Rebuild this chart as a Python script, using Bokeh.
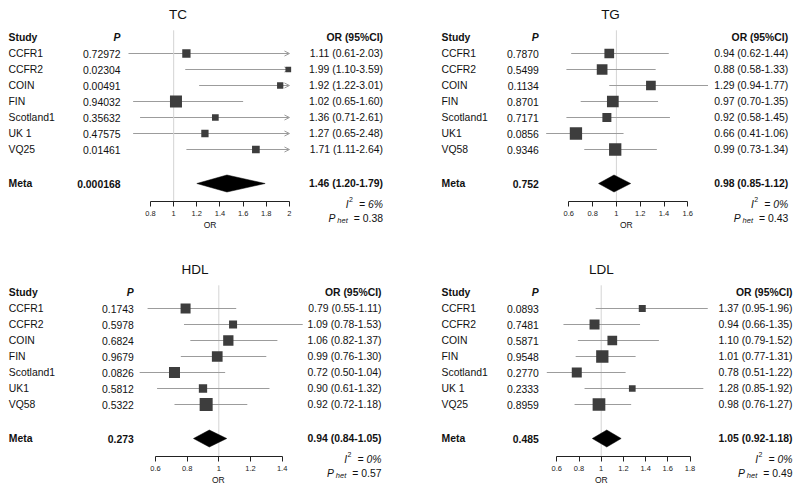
from bokeh.plotting import figure
from bokeh.models import (Range1d, ColumnDataSource, FixedTicker, NumeralTickFormatter,
                          Arrow, OpenHead)
from bokeh.layouts import row, column
from bokeh.embed import file_html
from bokeh.resources import INLINE
from bokeh.core.properties import value

# ---------------- data ----------------
tc_study = ["CCFR1", "CCFR2", "COIN", "FIN", "Scotland1", "UK 1", "VQ25"]
tc_p = ["0.72972", "0.02304", "0.00491", "0.94032", "0.35632", "0.47575", "0.01461"]
tc_or = [1.11, 1.99, 1.92, 1.02, 1.36, 1.27, 1.71]
tc_lo = [0.61, 1.10, 1.22, 0.65, 0.71, 0.65, 1.11]
tc_hi = [2.03, 3.59, 3.01, 1.60, 2.61, 2.48, 2.64]
tc_weight = [8.3, 5.7, 6.3, 12.0, 6.7, 7.3, 7.7]
tc_meta = dict(p="0.000168", est=1.46, lo=1.20, hi=1.79, i2="6%", phet="0.38")
tc_ticks = [0.8, 1.0, 1.2, 1.4, 1.6, 1.8, 2.0]

tg_study = ["CCFR1", "CCFR2", "COIN", "FIN", "Scotland1", "UK1", "VQ58"]
tg_p = ["0.7870", "0.5499", "0.1134", "0.8701", "0.7171", "0.0856", "0.9346"]
tg_or = [0.94, 0.88, 1.29, 0.97, 0.92, 0.66, 0.99]
tg_lo = [0.62, 0.58, 0.94, 0.70, 0.58, 0.41, 0.73]
tg_hi = [1.44, 1.33, 1.77, 1.35, 1.45, 1.06, 1.34]
tg_weight = [9.7, 10.7, 9.7, 11.7, 9.0, 12.3, 12.3]
tg_meta = dict(p="0.752", est=0.98, lo=0.85, hi=1.12, i2="0%", phet="0.43")
tg_ticks = [0.6, 0.8, 1.0, 1.2, 1.4, 1.6]

hdl_study = ["CCFR1", "CCFR2", "COIN", "FIN", "Scotland1", "UK1", "VQ58"]
hdl_p = ["0.1743", "0.5978", "0.6824", "0.9679", "0.0826", "0.5812", "0.5322"]
hdl_or = [0.79, 1.09, 1.06, 0.99, 0.72, 0.90, 0.92]
hdl_lo = [0.55, 0.78, 0.82, 0.76, 0.50, 0.61, 0.72]
hdl_hi = [1.11, 1.53, 1.37, 1.30, 1.04, 1.32, 1.18]
hdl_weight = [10.0, 8.0, 10.3, 10.7, 11.0, 8.3, 13.0]
hdl_meta = dict(p="0.273", est=0.94, lo=0.84, hi=1.05, i2="0%", phet="0.57")
hdl_ticks = [0.6, 0.8, 1.0, 1.2, 1.4]

ldl_study = ["CCFR1", "CCFR2", "COIN", "FIN", "Scotland1", "UK 1", "VQ25"]
ldl_p = ["0.0893", "0.7481", "0.5871", "0.9548", "0.2770", "0.2333", "0.8959"]
ldl_or = [1.37, 0.94, 1.10, 1.01, 0.78, 1.28, 0.98]
ldl_lo = [0.95, 0.66, 0.79, 0.77, 0.51, 0.85, 0.76]
ldl_hi = [1.96, 1.35, 1.52, 1.31, 1.22, 1.92, 1.27]
ldl_weight = [7.0, 10.0, 9.7, 12.3, 10.0, 6.7, 12.7]
ldl_meta = dict(p="0.485", est=1.05, lo=0.92, hi=1.18, i2="0%", phet="0.49")
ldl_ticks = [0.6, 0.8, 1.0, 1.2, 1.4, 1.6, 1.8]

NULL_OR = 1.0

# ---------------- style / layout ----------------
FONT = "Liberation Sans"
FS_PX = 10.4
FS = f"{FS_PX}px"
SUB_PX = 7.5
TXT = "#111111"
CI_COL = "#9c9c9c"
BOX_COL = "#3d3d3d"
REF_COL = "#d4d4d4"
ROW_PX = 16.0
HEADER_PX = 37
META_ROW = 9.125
TITLE_ROW = -1.44
REFLINE_TOP = -0.45
AXIS_ROW = 10.28
I2_ROW = 10.42
PHET_ROW = 11.3
ORLAB_ROW = 11.7
DIAMOND_HALF = 8.5 / ROW_PX

AW = {'0': .556, '1': .556, '2': .556, '3': .556, '4': .556, '5': .556, '6': .556,
      '7': .556, '8': .556, '9': .556, '.': .278, ' ': .278, '=': .584, '%': .889,
      'I': .278, 'P': .667, 'h': .556, 'e': .556, 't': .278}


def tw(s, px):
    return sum(AW.get(c, .556) for c in s) * px


def make_panel(name, study, pv, orv, lo, hi, weight, meta, ticks, clip_hi, lay, fig_w, fig_h):
    ppu = lay["ppu"]
    x0 = lay["ax_val"] - lay["ax_px"] / ppu
    x1 = x0 + fig_w / ppu

    def px(v):
        return x0 + v / ppu

    y_top = -HEADER_PX / ROW_PX
    y_bot = (fig_h - HEADER_PX) / ROW_PX

    p = figure(width=fig_w, height=fig_h, x_range=Range1d(x0, x1),
               y_range=Range1d(y_bot, y_top), output_backend="svg",
               toolbar_location=None, y_axis_location=None, tools="",
               min_border_left=0, min_border_right=0, min_border_top=0,
               min_border_bottom=0)
    p.title.visible = False
    p.outline_line_color = None
    p.background_fill_color = "white"
    p.border_fill_color = "white"
    p.grid.visible = False

    ax = p.xaxis[0]
    ax.fixed_location = AXIS_ROW
    ax.ticker = FixedTicker(ticks=ticks)
    ax.formatter = NumeralTickFormatter(format="0.[0]")
    ax.bounds = (min(ticks), max(ticks))
    ax.minor_tick_line_color = None
    ax.major_tick_in = 0
    ax.major_tick_out = 5
    ax.major_label_standoff = 4
    ax.major_label_text_font = FONT
    ax.major_label_text_font_size = "7.5px"
    ax.major_label_text_color = "#222222"
    ax.axis_line_color = "#222222"
    ax.major_tick_line_color = "#222222"

    rows = list(range(1, len(study) + 1))

    # reference line at OR = 1
    p.segment(x0=[NULL_OR], y0=[REFLINE_TOP], x1=[NULL_OR], y1=[AXIS_ROW],
              line_color=REF_COL, line_width=1)

    # confidence intervals
    cap = clip_hi if clip_hi is not None else float("inf")
    plain = [i for i in range(len(study)) if hi[i] <= cap]
    clipped = [i for i in range(len(study)) if hi[i] > cap]
    if plain:
        p.segment(x0=[lo[i] for i in plain], x1=[hi[i] for i in plain],
                  y0=[rows[i] for i in plain], y1=[rows[i] for i in plain],
                  line_color=CI_COL, line_width=1)
    if clipped:
        asrc = ColumnDataSource(dict(xs=[lo[i] for i in clipped],
                                     xe=[cap for i in clipped],
                                     y=[rows[i] for i in clipped]))
        arr = Arrow(end=OpenHead(size=5, line_color=CI_COL, line_width=1),
                    x_start="xs", y_start="y", x_end="xe", y_end="y",
                    source=asrc, line_color=CI_COL, line_width=1, level="underlay")
        p.add_layout(arr)

    # study boxes
    p.scatter(x=orv, y=rows, size=weight, marker="square",
              fill_color=BOX_COL, line_color=None)

    # meta diamond
    p.patch(x=[meta["lo"], meta["est"], meta["hi"], meta["est"]],
            y=[META_ROW, META_ROW - DIAMOND_HALF, META_ROW, META_ROW + DIAMOND_HALF],
            fill_color="black", line_color="black", line_width=0.5)

    common = dict(text_font=value(FONT), text_font_size=value(FS),
                  text_color=TXT, text_baseline="middle")

    # title
    p.text(x=[px(lay["title"])], y=[TITLE_ROW], text=[name], text_align="center",
           text_font=value(FONT), text_font_size=value("13.5px"),
           text_color=TXT, text_baseline="middle")

    # header
    p.text(x=[px(lay["study"])], y=[0], text=["Study"], text_align="left",
           text_font_style="bold", **common)
    p.text(x=[px(lay["p"])], y=[0], text=["P"], text_align="right",
           text_font_style="bold italic", **common)
    p.text(x=[px(lay["or"])], y=[0], text=["OR (95%CI)"], text_align="right",
           text_font_style="bold", **common)

    # rows
    or_txt = [f"{o:.2f} ({a:.2f}-{b:.2f})" for o, a, b in zip(orv, lo, hi)]
    p.text(x=[px(lay["study"])] * len(study), y=rows, text=study, text_align="left", **common)
    p.text(x=[px(lay["p"])] * len(study), y=rows, text=pv, text_align="right", **common)
    p.text(x=[px(lay["or"])] * len(study), y=rows, text=or_txt, text_align="right", **common)

    # meta row
    meta_txt = f"{meta['est']:.2f} ({meta['lo']:.2f}-{meta['hi']:.2f})"
    p.text(x=[px(lay["study"])], y=[META_ROW], text=["Meta"], text_align="left",
           text_font_style="bold", **common)
    p.text(x=[px(lay["p"])], y=[META_ROW], text=[meta["p"]], text_align="right",
           text_font_style="bold", **common)
    p.text(x=[px(lay["or"])], y=[META_ROW], text=[meta_txt], text_align="right",
           text_font_style="bold", **common)

    # heterogeneity statistics (I^2 and P_het), right aligned under the OR column
    xr = px(lay["or"])
    lab = dict(text_font=value(FONT), text_color=TXT, text_baseline="middle",
               text_align="right")
    s_eq = "= " + meta["i2"]
    w_eq = tw(s_eq, FS_PX)
    p.text(x=[xr], y=[I2_ROW], text=[s_eq], text_font_size=value(FS),
           text_font_style="italic", **lab)
    p.text(x=[xr], y=[I2_ROW - 0.3], x_offset=-w_eq - 6, text=["2"],
           text_font_size=value("7px"), **lab)
    p.text(x=[xr], y=[I2_ROW], x_offset=-w_eq - 6 - tw("2", 7) - 0.5, text=["I"],
           text_font_size=value(FS), text_font_style="italic", **lab)

    s_ph = "= " + meta["phet"]
    w_ph = tw(s_ph, FS_PX)
    p.text(x=[xr], y=[PHET_ROW], text=[s_ph], text_font_size=value(FS), **lab)
    p.text(x=[xr], y=[PHET_ROW + 0.14], x_offset=-w_ph - 6, text=["het"],
           text_font_size=value(f"{SUB_PX}px"), text_font_style="italic", **lab)
    p.text(x=[xr], y=[PHET_ROW], x_offset=-w_ph - 6 - tw("het", SUB_PX) - 2, text=["P"],
           text_font_size=value(FS), text_font_style="italic", **lab)

    # axis title
    p.text(x=[px(lay["orlab"])], y=[ORLAB_ROW], text=["OR"], text_font=value(FONT),
           text_font_size=value("8.5px"), text_color=TXT,
           text_align="center", text_baseline="middle")
    return p


lay_tc = dict(study=8, p=120, ax_val=0.8, ax_px=150, ppu=115.8, title=177.5, orlab=209.5)
lay_tc["or"] = 382.5
lay_tg = dict(study=41, p=138.3, ax_val=0.6, ax_px=168.3, ppu=119.0, title=210, orlab=225.8)
lay_tg["or"] = 387.7
lay_hdl = dict(study=8.3, p=133.3, ax_val=0.6, ax_px=155, ppu=158.3, title=194.5, orlab=217.8)
lay_hdl["or"] = 381
lay_ldl = dict(study=41, p=138.3, ax_val=0.6, ax_px=156.3, ppu=111.0, title=200.8, orlab=200.8)
lay_ldl["or"] = 392

LEFT_W = 400
RIGHT_W = 396
TOP_H = 255
BOT_H = 235

p1 = make_panel("TC", tc_study, tc_p, tc_or, tc_lo, tc_hi, tc_weight, tc_meta, tc_ticks, 2.0,
                lay_tc, LEFT_W, TOP_H)
p2 = make_panel("TG", tg_study, tg_p, tg_or, tg_lo, tg_hi, tg_weight, tg_meta, tg_ticks, None,
                lay_tg, RIGHT_W, TOP_H)
p3 = make_panel("HDL", hdl_study, hdl_p, hdl_or, hdl_lo, hdl_hi, hdl_weight, hdl_meta, hdl_ticks,
                None, lay_hdl, LEFT_W, BOT_H)
p4 = make_panel("LDL", ldl_study, ldl_p, ldl_or, ldl_lo, ldl_hi, ldl_weight, ldl_meta, ldl_ticks,
                None, lay_ldl, RIGHT_W, BOT_H)

layout = column(row(p1, p2), row(p3, p4))
open("out.html", "w").write(file_html(layout, INLINE))
